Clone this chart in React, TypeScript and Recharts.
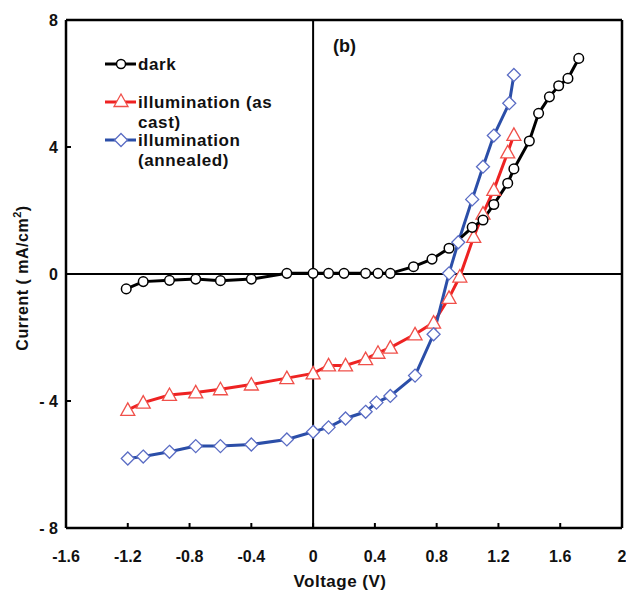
import {
  Line,
  LineChart,
  ReferenceLine,
  XAxis,
  YAxis,
} from 'recharts'

// dark curve
const darkV = [-1.21, -1.1, -0.93, -0.76, -0.6, -0.4, -0.17, 0, 0.1, 0.2, 0.34, 0.42, 0.5, 0.65, 0.77, 0.88, 1.03, 1.1, 1.17, 1.26, 1.3, 1.4, 1.46, 1.53, 1.59, 1.65, 1.72]
const darkI = [-0.47, -0.24, -0.2, -0.16, -0.21, -0.16, 0.02, 0.02, 0.02, 0.02, 0.02, 0.02, 0.02, 0.23, 0.47, 0.81, 1.47, 1.7, 2.19, 2.86, 3.31, 4.19, 5.06, 5.58, 5.93, 6.16, 6.79]

// illumination (as cast)
const castV = [-1.2, -1.1, -0.93, -0.76, -0.6, -0.4, -0.17, 0, 0.1, 0.21, 0.34, 0.42, 0.5, 0.66, 0.78, 0.88, 0.95, 1.04, 1.1, 1.17, 1.26, 1.3]
const castI = [-4.28, -4.05, -3.81, -3.73, -3.63, -3.48, -3.28, -3.13, -2.88, -2.88, -2.68, -2.48, -2.32, -1.9, -1.53, -0.75, -0.08, 1.17, 1.9, 2.65, 3.83, 4.38]

// illumination (annealed)
const annV = [-1.2, -1.1, -0.93, -0.76, -0.6, -0.4, -0.17, 0, 0.1, 0.21, 0.34, 0.41, 0.5, 0.66, 0.78, 0.88, 0.94, 1.03, 1.1, 1.17, 1.27, 1.3]
const annI = [-5.81, -5.75, -5.6, -5.42, -5.42, -5.37, -5.21, -4.97, -4.83, -4.55, -4.34, -4.05, -3.84, -3.2, -1.9, 0.02, 1.0, 2.35, 3.38, 4.36, 5.38, 6.27]

const xTicks = [-1.6, -1.2, -0.8, -0.4, 0, 0.4, 0.8, 1.2, 1.6, 2]
const yTicks = [-8, -4, 0, 4, 8]

const toPoints = (vs: number[], is: number[]) => vs.map((v, i) => ({ v, i: is[i] }))

const dark = toPoints(darkV, darkI)
const asCast = toPoints(castV, castI)
const annealed = toPoints(annV, annI)

const RED = '#ee2222'
const RED_MARK = '#f0504a'
const BLUE = '#2b4ea8'
const BLUE_MARK = '#5a6cc4'
const FONT = '"Liberation Sans", Arial, sans-serif'

function Triangle({ cx, cy }: { cx?: number; cy?: number }) {
  if (cx == null || cy == null) return null
  return (
    <path
      d={`M${cx},${cy - 7} L${cx + 7},${cy + 5.5} L${cx - 7},${cy + 5.5} Z`}
      fill="#fff"
      stroke={RED_MARK}
      strokeWidth={1.3}
    />
  )
}

function Diamond({ cx, cy }: { cx?: number; cy?: number }) {
  if (cx == null || cy == null) return null
  return (
    <path
      d={`M${cx},${cy - 6.5} L${cx + 6.5},${cy} L${cx},${cy + 6.5} L${cx - 6.5},${cy} Z`}
      fill="#fff"
      stroke={BLUE_MARK}
      strokeWidth={1.3}
    />
  )
}

function XTick({ x, y, payload }: any) {
  return (
    <g>
      <line x1={x} y1={y} x2={x} y2={y - 5} stroke="#000" strokeWidth={2} />
      <text x={x} y={y + 34} textAnchor="middle" fontSize={16} fontWeight="bold" fontFamily={FONT} fill="#111">
        {String(payload.value)}
      </text>
    </g>
  )
}

function YTick({ x, y, payload }: any) {
  const val = payload.value as number
  const label = val < 0 ? `- ${Math.abs(val)}` : String(val)
  return (
    <g>
      <line x1={x} y1={y} x2={x + 5} y2={y} stroke="#000" strokeWidth={2} />
      <text x={x - 8} y={y + 6} textAnchor="end" fontSize={16} fontWeight="bold" fontFamily={FONT} fill="#111">
        {label}
      </text>
    </g>
  )
}

function LegendBox() {
  const row = (y: number, color: string, marker: JSX.Element, lines: string[]) => (
    <g>
      <line x1={5} y1={y} x2={36} y2={y} stroke={color} strokeWidth={3} />
      {marker}
      {lines.map((t, k) => (
        <text key={t} x={38} y={y + 6 + k * 20} fontSize={17} fontWeight="bold" fontFamily={FONT} fill="#111" letterSpacing={0.6}>
          {t}
        </text>
      ))}
    </g>
  )
  return (
    <svg width={200} height={130} style={{ display: 'block' }}>
      {row(10, '#000', <circle cx={21} cy={10} r={4.5} fill="#fff" stroke="#000" strokeWidth={1.5} />, ['dark'])}
      {row(48, RED, <Triangle cx={21} cy={47} />, ['illumination (as', 'cast)'])}
      {row(86, BLUE, <Diamond cx={21} cy={86} />, ['illumination', '(annealed)'])}
    </svg>
  )
}

export default function App() {
  return (
    <div style={{ position: 'absolute', left: 0, top: 0, width: 626, height: 594, background: '#fff' }}>
      <LineChart width={626} height={594} margin={{ top: 20, right: 4, bottom: 0, left: 0 }}>
        <XAxis
          dataKey="v"
          type="number"
          domain={[-1.6, 2]}
          ticks={xTicks}
          interval={0}
          height={66}
          tickSize={0}
          tickMargin={0}
          tickLine={false}
          axisLine={{ stroke: '#000', strokeWidth: 2.5 }}
          tick={<XTick />}
          allowDataOverflow
        />
        <YAxis
          dataKey="i"
          type="number"
          domain={[-8, 8]}
          ticks={yTicks}
          interval={0}
          width={66}
          tickSize={0}
          tickMargin={0}
          tickLine={false}
          axisLine={{ stroke: '#000', strokeWidth: 2.5 }}
          tick={<YTick />}
          allowDataOverflow
        />
        <ReferenceLine y={8} stroke="#000" strokeWidth={2.5} />
        <ReferenceLine x={2} stroke="#000" strokeWidth={2.5} />
        <ReferenceLine x={0} stroke="#000" strokeWidth={2} />
        <ReferenceLine y={0} stroke="#000" strokeWidth={2} />
        <Line
          data={asCast}
          dataKey="i"
          type="linear"
          stroke={RED}
          strokeWidth={3}
          dot={<Triangle />}
          isAnimationActive={false}
        />
        <Line
          data={annealed}
          dataKey="i"
          type="linear"
          stroke={BLUE}
          strokeWidth={3}
          dot={<Diamond />}
          isAnimationActive={false}
        />
        <Line
          data={dark}
          dataKey="i"
          type="linear"
          stroke="#000"
          strokeWidth={3}
          dot={{ r: 4.8, fill: '#fff', stroke: '#000', strokeWidth: 1.5 }}
          isAnimationActive={false}
        />
      </LineChart>
      <div style={{ position: 'absolute', left: 100, top: 54 }}>
        <LegendBox />
      </div>
      <svg width={626} height={594} style={{ position: 'absolute', left: 0, top: 0, pointerEvents: 'none' }}>
        <text
          transform="rotate(-90 22 278)"
          x={22}
          y={284}
          textAnchor="middle"
          fontSize={16}
          fontWeight="bold"
          fontFamily={FONT}
          fill="#111"
          letterSpacing={0.5}
        >
          <tspan>Current ( mA/cm</tspan>
          <tspan fontSize={11} dy={-7}>2</tspan>
          <tspan dy={7}>)</tspan>
        </text>
        <text x={340} y={587} textAnchor="middle" fontSize={17} fontWeight="bold" fontFamily={FONT} fill="#111" letterSpacing={0.5}>
          Voltage (V)
        </text>
        <text x={333} y={52} fontSize={18} fontWeight="bold" fontFamily={FONT} fill="#111">
          (b)
        </text>
      </svg>
    </div>
  )
}
